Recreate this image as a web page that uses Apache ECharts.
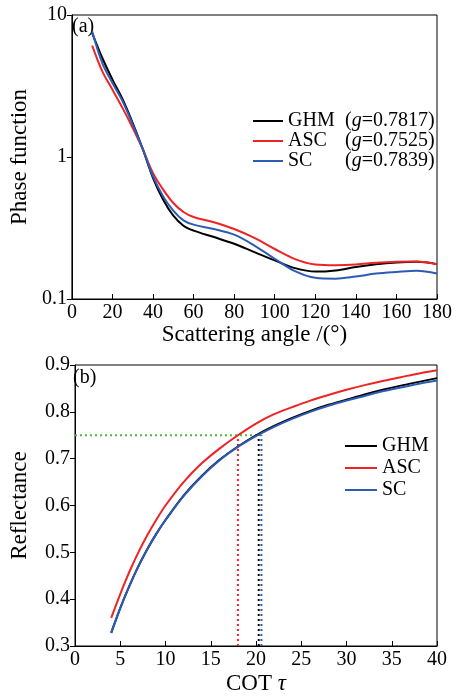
<!DOCTYPE html>
<html>
<head>
<meta charset="utf-8">
<script src="https://cdn.jsdelivr.net/npm/echarts@6/dist/echarts.min.js"></script>
<style>
  html, body { margin: 0; padding: 0; background: #fff; }
  #chart { width: 460px; height: 696px; }
</style>
</head>
<body>
<div id="chart"></div>
<script>
// panel (a): phase function vs scattering angle
const angles = [10, 15, 20, 25, 30, 35, 40, 45, 50, 55, 60, 70, 80, 90, 100, 110, 120, 130, 140, 150, 160, 170, 180];
const phaseGHM = [7.46, 4.98, 3.51, 2.55, 1.73, 1.13, 0.71, 0.50, 0.386, 0.328, 0.303, 0.273, 0.245, 0.214, 0.187, 0.165, 0.156, 0.159, 0.168, 0.176, 0.181, 0.183, 0.176];
const phaseASC = [6.08, 4.01, 2.98, 2.21, 1.60, 1.13, 0.77, 0.589, 0.474, 0.410, 0.378, 0.347, 0.311, 0.269, 0.225, 0.191, 0.175, 0.173, 0.175, 0.180, 0.183, 0.184, 0.176];
const phaseSC = [7.67, 4.59, 3.32, 2.47, 1.69, 1.13, 0.73, 0.528, 0.419, 0.358, 0.334, 0.311, 0.284, 0.238, 0.192, 0.157, 0.141, 0.139, 0.144, 0.151, 0.155, 0.158, 0.151];
const gValues = { GHM: '0.7817', ASC: '0.7525', SC: '0.7839' };

// panel (b): reflectance vs COT
const tau = [4, 5, 6, 7, 8, 9, 10, 12, 14, 16, 18, 20, 22, 24, 26, 28, 30, 32, 34, 36, 38, 40];
const reflASC = [0.360, 0.411, 0.458, 0.500, 0.537, 0.570, 0.600, 0.650, 0.690, 0.722, 0.750, 0.775, 0.795, 0.810, 0.824, 0.836, 0.847, 0.857, 0.866, 0.874, 0.882, 0.889];
const reflSC = [0.328, 0.381, 0.428, 0.470, 0.507, 0.540, 0.569, 0.620, 0.662, 0.697, 0.725, 0.748, 0.768, 0.785, 0.800, 0.813, 0.824, 0.834, 0.844, 0.852, 0.860, 0.867];
const reflGHM = [0.328, 0.381, 0.428, 0.470, 0.507, 0.540, 0.569, 0.621, 0.663, 0.698, 0.726, 0.750, 0.770, 0.787, 0.802, 0.815, 0.826, 0.837, 0.847, 0.856, 0.864, 0.872];
const targetR = 0.75;
const crossTau = { ASC: 18.0, GHM: 20.3, SC: 20.6 };

const colors = { GHM: '#000000', ASC: '#ee2424', SC: '#2c5cb3' };
const font = "'Liberation Serif', 'DejaVu Serif', serif";

function pairs(xs, ys) { return xs.map((x, i) => [x, ys[i]]); }

function curve(name, data, idx) {
  return {
    name: name, type: 'line', xAxisIndex: idx, yAxisIndex: idx,
    data: data, smooth: 0.35, symbol: 'none',
    lineStyle: { color: colors[name], width: 2 },
    itemStyle: { color: colors[name] }
  };
}

function guide(name, data, color) {
  return {
    name: name, type: 'line', xAxisIndex: 1, yAxisIndex: 1,
    data: data, symbol: 'none', silent: true,
    lineStyle: { color: color, width: 2, type: [2, 3] }
  };
}

const tickLabel = { color: '#000', fontSize: 20, fontFamily: font };
const axisName = { color: '#000', fontSize: 23, fontFamily: font };
const rowStyle = { fontSize: 20, fontFamily: font, color: '#000', lineHeight: 22 };

const chart = echarts.init(document.getElementById('chart'));
chart.setOption({
  animation: false,
  backgroundColor: '#fff',
  textStyle: { fontFamily: font },
  grid: [
    { left: 68, right: 23, top: 15, height: 284, show: true, borderColor: '#000', borderWidth: 1 },
    { left: 68, right: 23, top: 365, height: 284, show: true, borderColor: '#000', borderWidth: 1 }
  ],
  xAxis: [
    {
      type: 'value', gridIndex: 0, min: 0, max: 180, interval: 20,
      name: 'Scattering angle /(°)', nameLocation: 'middle', nameGap: 18, nameTextStyle: axisName,
      axisLine: { lineStyle: { color: '#000' } },
      axisTick: { inside: true, length: 5, lineStyle: { color: '#000' } },
      axisLabel: Object.assign({ margin: 4 }, tickLabel),
      splitLine: { show: false }
    },
    {
      type: 'value', gridIndex: 1, min: 0, max: 40, interval: 5,
      name: 'COT {i|τ}', nameLocation: 'middle', nameGap: 26,
      nameTextStyle: Object.assign({ rich: { i: { fontStyle: 'italic', fontSize: 23, fontFamily: font, color: '#000' } } }, axisName),
      axisLine: { lineStyle: { color: '#000' } },
      axisTick: { inside: true, length: 5, lineStyle: { color: '#000' } },
      axisLabel: Object.assign({ margin: 4 }, tickLabel),
      splitLine: { show: false }
    }
  ],
  yAxis: [
    {
      type: 'log', gridIndex: 0, min: 0.1, max: 10, logBase: 10,
      name: 'Phase function', nameLocation: 'middle', nameGap: 36, nameTextStyle: axisName,
      axisLine: { show: true, lineStyle: { color: '#000' } },
      axisTick: { length: 5, lineStyle: { color: '#000' } },
      axisLabel: Object.assign({ margin: 5, formatter: v => String(+v.toPrecision(3)) }, tickLabel),
      splitLine: { show: false }, minorTick: { show: false }
    },
    {
      type: 'value', gridIndex: 1, min: 0.3, max: 0.9, interval: 0.1,
      name: 'Reflectance', nameLocation: 'middle', nameGap: 44, nameTextStyle: axisName,
      axisLine: { show: true, lineStyle: { color: '#000' } },
      axisTick: { length: 5, lineStyle: { color: '#000' } },
      axisLabel: Object.assign({ margin: 5, formatter: v => v.toFixed(1) }, tickLabel),
      splitLine: { show: false }
    }
  ],
  legend: [
    {
      data: ['GHM', 'ASC', 'SC'], orient: 'vertical', left: 248, top: 106,
      itemWidth: 30, itemHeight: 2, itemGap: 0, icon: 'rect', selectedMode: false,
      formatter: name => `{n|${name}}{p|(}{i|g}{p|=${gValues[name]})}`,
      textStyle: {
        fontFamily: font,
        rich: {
          n: Object.assign({ width: 57 }, rowStyle),
          p: rowStyle,
          i: Object.assign({ fontStyle: 'italic' }, rowStyle)
        }
      }
    },
    {
      data: ['GHM', 'ASC', 'SC'], orient: 'vertical', left: 340, top: 430,
      itemWidth: 32, itemHeight: 2, itemGap: 0, icon: 'rect', selectedMode: false,
      textStyle: rowStyle
    }
  ],
  graphic: [
    { type: 'text', left: 72, top: 17, style: { text: '(a)', fontSize: 20, fontFamily: font, fill: '#000' } },
    { type: 'text', left: 73, top: 368, style: { text: '(b)', fontSize: 20, fontFamily: font, fill: '#000' } }
  ],
  series: [
    curve('GHM', pairs(angles, phaseGHM), 0),
    curve('ASC', pairs(angles, phaseASC), 0),
    curve('SC', pairs(angles, phaseSC), 0),
    guide('h-guide', [[0, targetR], [crossTau.SC, targetR]], '#4cbb3a'),
    guide('v-ASC', [[crossTau.ASC, 0.3], [crossTau.ASC, targetR]], colors.ASC),
    guide('v-GHM', [[crossTau.GHM, 0.3], [crossTau.GHM, targetR]], colors.GHM),
    guide('v-SC', [[crossTau.SC, 0.3], [crossTau.SC, targetR]], colors.SC),
    curve('GHM', pairs(tau, reflGHM), 1),
    curve('ASC', pairs(tau, reflASC), 1),
    curve('SC', pairs(tau, reflSC), 1)
  ]
});
</script>
</body>
</html>
